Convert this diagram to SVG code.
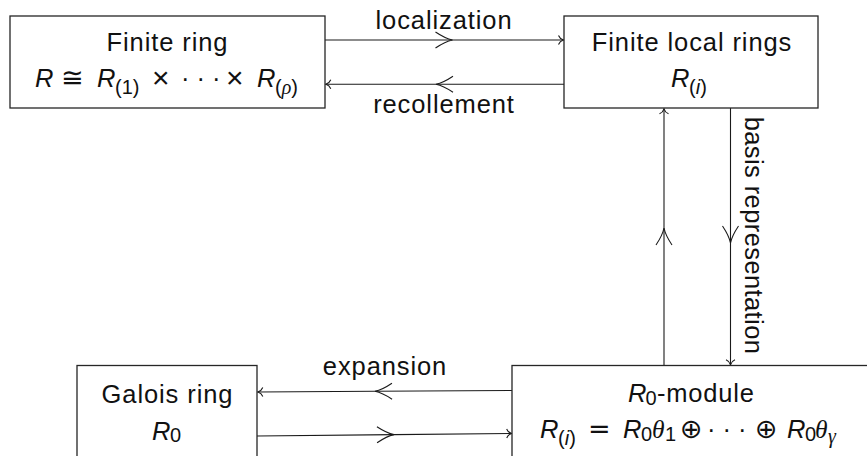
<svg xmlns="http://www.w3.org/2000/svg" width="867" height="456" viewBox="0 0 867 456">
<style>
  .box { fill: #ffffff; stroke: #262626; stroke-width: 1.3; }
  .lbl { font-family: "Liberation Sans", Arial, sans-serif; font-size: 25.5px; fill: #111; letter-spacing: 0.9px; }
  .math { font-family: "Liberation Sans", Arial, sans-serif; font-size: 25.5px; fill: #111; }
  .it { font-style: italic; }
  .gr { font-family: "Liberation Serif", "DejaVu Serif", serif; font-style: italic; }
  .sub { font-size: 20px; }
  .sym { font-family: "DejaVu Sans", "Liberation Sans", sans-serif; font-size: 27px; }
  .times { font-family: "Liberation Sans", Arial, sans-serif; font-size: 30px; }
  .edge { fill: none; stroke: #1a1a1a; stroke-width: 1.1; marker-mid: url(#mid); marker-end: url(#tip); }
</style>
<defs>
  <marker id="tip" markerUnits="userSpaceOnUse" orient="auto" markerWidth="12" markerHeight="12" refX="0" refY="0" viewBox="-8 -6 10 12" overflow="visible">
    <path d="M-5,-4.5 C-4,-2 -2,-0.6 0,0 C-2,0.6 -4,2 -5,4.5" fill="none" stroke="#1a1a1a" stroke-width="1.1"/>
  </marker>
  <marker id="mid" markerUnits="userSpaceOnUse" orient="auto" markerWidth="24" markerHeight="20" refX="0" refY="0" viewBox="-20 -10 22 20" overflow="visible">
    <path d="M-17,-8 C-11,-4 -5,-1 0,0 C-5,1 -11,4 -17,8" fill="none" stroke="#1a1a1a" stroke-width="1.1"/>
  </marker>
</defs>
<rect width="867" height="456" fill="#ffffff"/>

<g id="connectors">
  <polyline id="e-localization" class="edge" points="325,40 452.5,40 563.5,40"/>
  <polyline id="e-recollement" class="edge" points="564,84.3 436,84.3 325.8,84.3"/>
  <polyline id="e-up" class="edge" points="664,365.5 664,228 664,108.8"/>
  <polyline id="e-basis" class="edge" points="730.5,108 730.5,243 730.5,364.8"/>
  <polyline id="e-expansion" class="edge" points="512,390.5 375,391.3 257.8,392"/>
  <polyline id="e-lower" class="edge" points="257,436 394,434.6 511.7,433.5"/>
  <text class="lbl" x="444" y="29" text-anchor="middle">localization</text>
  <text class="lbl" x="444" y="113" text-anchor="middle">recollement</text>
  <text class="lbl" x="385" y="375" text-anchor="middle">expansion</text>
  <text class="lbl" style="letter-spacing:0.4px" x="0" y="0" text-anchor="middle" transform="translate(745,235.5) rotate(90)">basis representation</text>
</g>

<g id="node-finite-ring">
  <rect class="box" x="10" y="16" width="315" height="92"/>
  <text class="lbl" x="167.5" y="51" text-anchor="middle">Finite ring</text>
  <text class="math">
    <tspan class="it" x="35" y="87">R</tspan>
    <tspan class="sym" x="61" y="87">≅</tspan>
    <tspan class="it" x="97" y="87">R</tspan>
    <tspan class="sub" x="115" y="94">(1)</tspan>
    <tspan class="times" x="152" y="88">×</tspan>
    <tspan x="181" y="87" style="letter-spacing:7px">···</tspan>
    <tspan class="times" x="226" y="88">×</tspan>
    <tspan class="it" x="257" y="87">R</tspan>
    <tspan class="sub" x="275" y="94">(<tspan class="gr">ρ</tspan>)</tspan>
  </text>
</g>

<g id="node-finite-local-rings">
  <rect class="box" x="564" y="16" width="254" height="92"/>
  <text class="lbl" x="692" y="51" text-anchor="middle">Finite local rings</text>
  <text class="math">
    <tspan class="it" x="671" y="87">R</tspan>
    <tspan class="sub" x="689" y="94">(<tspan class="it">i</tspan>)</tspan>
  </text>
</g>

<g id="node-galois-ring">
  <rect class="box" x="77" y="365.5" width="180" height="100"/>
  <text class="lbl" x="167.5" y="403" text-anchor="middle">Galois ring</text>
  <text class="math">
    <tspan class="it" x="152" y="439.5">R</tspan>
    <tspan class="sub" x="170" y="442">0</tspan>
  </text>
</g>

<g id="node-r0-module">
  <rect class="box" x="512" y="365.5" width="360" height="100"/>
  <text class="math">
    <tspan class="it" x="628" y="402">R</tspan>
    <tspan class="sub" x="645.5" y="404.5">0</tspan>
    <tspan x="657" y="402" style="letter-spacing:0.8px">-module</tspan>
  </text>
  <text class="math">
    <tspan class="it" x="540" y="438">R</tspan>
    <tspan class="sub" x="558" y="445">(<tspan class="it">i</tspan>)</tspan>
    <tspan class="sym" x="588" y="438">=</tspan>
    <tspan class="it" x="623" y="438">R</tspan>
    <tspan class="sub" x="641" y="440.5">0</tspan>
    <tspan class="gr" x="652" y="438">θ</tspan>
    <tspan class="sub" x="665" y="440.5">1</tspan>
    <tspan class="sym" x="680" y="438">⊕</tspan>
    <tspan x="707" y="438" style="letter-spacing:7px">···</tspan>
    <tspan class="sym" x="755" y="438">⊕</tspan>
    <tspan class="it" x="787" y="438">R</tspan>
    <tspan class="sub" x="805" y="440.5">0</tspan>
    <tspan class="gr" x="815" y="438">θ</tspan>
    <tspan class="sub gr" x="828" y="443">γ</tspan>
  </text>
</g>
</svg>
